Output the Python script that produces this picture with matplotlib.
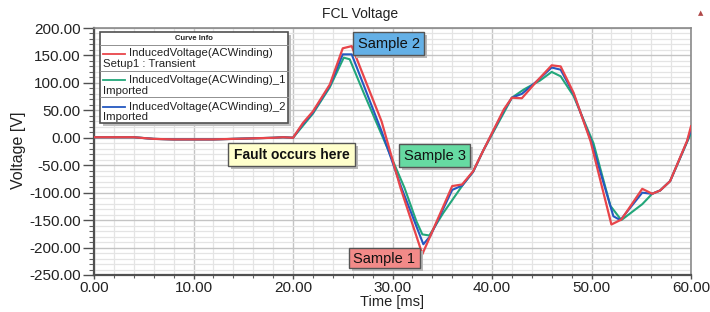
import matplotlib
matplotlib.use("Agg")
import matplotlib.pyplot as plt
from matplotlib.patches import Rectangle
from matplotlib.lines import Line2D
from matplotlib.ticker import MultipleLocator, FormatStrFormatter

plt.rcParams['font.family'] = ['Liberation Sans', 'DejaVu Sans']

# ---------------- data ----------------
t_pre = [0, 2, 4, 6, 8, 10, 12, 14, 16, 18, 19, 20]
v_pre = [1, 1, 1, -2, -3, -3, -3, -2, -1, 0, 1, 0]

t_red = [21.0, 22.0, 23.7, 25.0, 25.9, 28.9, 30.8, 33.0, 36.0, 37.0, 38.1, 39.1,
         41.2, 42.0, 43.0, 44.5, 46.0, 46.9, 48.2, 49.9, 52.0, 53.0, 55.1, 56.1,
         56.9, 57.9, 59.6, 60.0]
v_red = [27, 48, 97, 163, 167, 30, -91, -212, -88, -85, -61, -24,
         52, 73, 72, 103, 132, 130, 82, -6, -158, -149, -93, -102,
         -96, -79, -6, 21]

t_blue = [21.0, 22.0, 23.7, 25.0, 25.9, 28.9, 30.9, 33.1, 33.8, 36.0, 37.0, 38.1, 39.1,
          41.2, 42.0, 43.0, 44.5, 46.0, 46.9, 48.2, 50.0, 52.2, 52.9, 55.1, 56.1,
          56.9, 57.9, 59.6, 60.0]
v_blue = [25, 46, 95, 152, 152, 12, -91, -194, -179, -95, -87, -62, -24,
          50, 73, 80, 103, 128, 124, 80, -8, -143, -150, -100, -102,
          -96, -79, -7, 14]

t_green = [21.0, 22.0, 23.7, 25.1, 25.7, 27.1, 31.2, 32.4, 33.0, 33.7, 35.1, 37.1,
           38.1, 39.1, 41.2, 42.0, 43.2, 44.8, 46.0, 46.9, 48.2, 50.2, 51.9, 53.0,
           55.1, 56.1, 56.9, 57.9, 59.6, 60.0]
v_green = [22, 44, 92, 146, 143, 82, -91, -152, -176, -178, -137, -85,
           -62, -24, 46, 73, 88, 104, 120, 112, 76, -10, -124, -150,
           -121, -102, -96, -79, -8, 8]

x_ticks = [0, 10, 20, 30, 40, 50, 60]
y_ticks = [-250, -200, -150, -100, -50, 0, 50, 100, 150, 200]

legend_names = ["InducedVoltage(ACWinding)", "InducedVoltage(ACWinding)_1",
                "InducedVoltage(ACWinding)_2"]
legend_subs = ["Setup1 : Transient", "Imported", "Imported"]

# ---------------- figure ----------------
W, H = 710, 312
fig = plt.figure(figsize=(W / 100, H / 100), dpi=100)
fig.patch.set_facecolor('white')

L, R, T, B = 94, 691, 28, 275
ax = fig.add_axes([L / W, 1 - B / H, (R - L) / W, (B - T) / H])

def P(x, y):
    return (x / W, 1 - y / H)

RED = '#e8454a'
GREEN = '#22a77a'
BLUE = '#2458c0'

ax.plot(t_pre + t_green, v_pre + v_green, color=GREEN, lw=1.5, zorder=3)
ax.plot(t_pre + t_blue, v_pre + v_blue, color=BLUE, lw=1.5, zorder=4)
ax.plot(t_pre + t_red, v_pre + v_red, color=RED, lw=1.6, zorder=5)

ax.set_xlim(0, 60)
ax.set_ylim(-250, 200)
ax.set_xticks(x_ticks)
ax.set_yticks(y_ticks)
ax.xaxis.set_minor_locator(MultipleLocator(2))
ax.yaxis.set_minor_locator(MultipleLocator(10))
ax.xaxis.set_major_formatter(FormatStrFormatter('%.2f'))
ax.yaxis.set_major_formatter(FormatStrFormatter('%.2f'))

ax.grid(which='major', color='#c4c4c4', lw=1.0, zorder=0)
ax.grid(which='minor', color='#e4e4e4', lw=0.9, zorder=0)
ax.set_axisbelow(True)

for s in ['top', 'right']:
    ax.spines[s].set_color('#8a8a8a')
    ax.spines[s].set_linewidth(1.2)
for s in ['bottom', 'left']:
    ax.spines[s].set_color('#505050')
    ax.spines[s].set_linewidth(1.6)

ax.tick_params(axis='y', which='major', direction='out', length=8, width=1.0,
               color='#505050', labelsize=11, pad=1.5, labelcolor='#222222')
ax.tick_params(axis='y', which='minor', direction='out', length=3.6, width=0.8,
               color='#606060')
ax.tick_params(axis='x', which='major', direction='out', length=3, width=1.0,
               color='#505050', labelsize=11, pad=1.2, labelcolor='#222222')
ax.tick_params(axis='x', which='minor', direction='out', length=2, width=0.8,
               color='#606060')

ax.set_xlabel('Time [ms]', fontsize=10.5, color='#222222')
ax.xaxis.set_label_coords(0.5, (B - 302) / (B - T))
ax.xaxis.label.set_va('center')
ax.set_ylabel('Voltage [V]', fontsize=11.5, color='#222222')
ax.yaxis.set_label_coords((19 - L) / (R - L), (B - 150.5) / (B - T))
ax.yaxis.label.set_va('center')

fig.text(*P(360, 14), 'FCL Voltage', fontsize=10, ha='center', va='center',
         color='#222222')
fig.text(*P(701, 13), '\u25B2', fontsize=5, ha='center', va='center',
         color='#b04848', family='DejaVu Sans')

# ---------------- legend (Curve Info) ----------------
def frect(x0, y0, x1, y1, **kw):
    fx0, fy1 = P(x0, y0)
    fx1, fy0 = P(x1, y1)
    r = Rectangle((fx0, fy0), fx1 - fx0, fy1 - fy0, transform=fig.transFigure, **kw)
    fig.patches.append(r)
    return r

lx0, ly0, lx1, ly1 = 100, 32, 288, 123
frect(lx0 + 3, ly0 + 3, lx1 + 3, ly1 + 3, facecolor='#bdbdbd', edgecolor='none', zorder=10)
frect(lx0, ly0, lx1, ly1, facecolor='white', edgecolor='#505050', lw=1.2, zorder=11)
fig.text(*P(194, 39), 'Curve Info', fontsize=5.5, ha='center', va='center',
         color='#222222', zorder=12, fontweight='bold')
for ysep in [45, 70.5, 97]:
    fig.add_artist(Line2D([P(lx0, 0)[0], P(lx1, 0)[0]], [P(0, ysep)[1]] * 2,
                          transform=fig.transFigure, color='#909090', lw=0.7, zorder=12))
cols = [RED, GREEN, BLUE]
for i, (nm, sub, c) in enumerate(zip(legend_names, legend_subs, cols)):
    yl = 53.5 + i * 26.5
    fig.add_artist(Line2D([P(103, 0)[0], P(125, 0)[0]], [P(0, yl)[1]] * 2,
                          transform=fig.transFigure, color=c, lw=1.3, zorder=12))
    fig.text(*P(129, yl), nm, fontsize=8.2, ha='left', va='center',
             color='#222222', zorder=12)
    fig.text(*P(103, yl + 10.5), sub, fontsize=8.2, ha='left', va='center',
             color='#222222', zorder=12)

# ---------------- annotation boxes ----------------
def note(x0, y0, x1, y1, face, text, bold=False):
    frect(x0 + 3, y0 + 3, x1 + 3, y1 + 3, facecolor='#b8b8b8', edgecolor='none', zorder=13)
    frect(x0, y0, x1, y1, facecolor=face, edgecolor='#555555', lw=1.0, zorder=14)
    fig.text(*P((x0 + x1) / 2, (y0 + y1) / 2 + 0.5), text, fontsize=10.5 if not bold else 10,
             ha='center', va='center', color='#111111', zorder=15,
             fontweight='bold' if bold else 'normal')

note(353, 32, 424, 55, '#64b0e6', 'Sample 2')
note(399, 144, 470, 167, '#66daa2', 'Sample 3')
note(349, 248, 420, 268, '#f28a88', 'Sample 1')
note(228, 143, 355, 166, '#ffffcc', 'Fault occurs here', bold=True)

fig.savefig('out.png', dpi=100, facecolor='white')
